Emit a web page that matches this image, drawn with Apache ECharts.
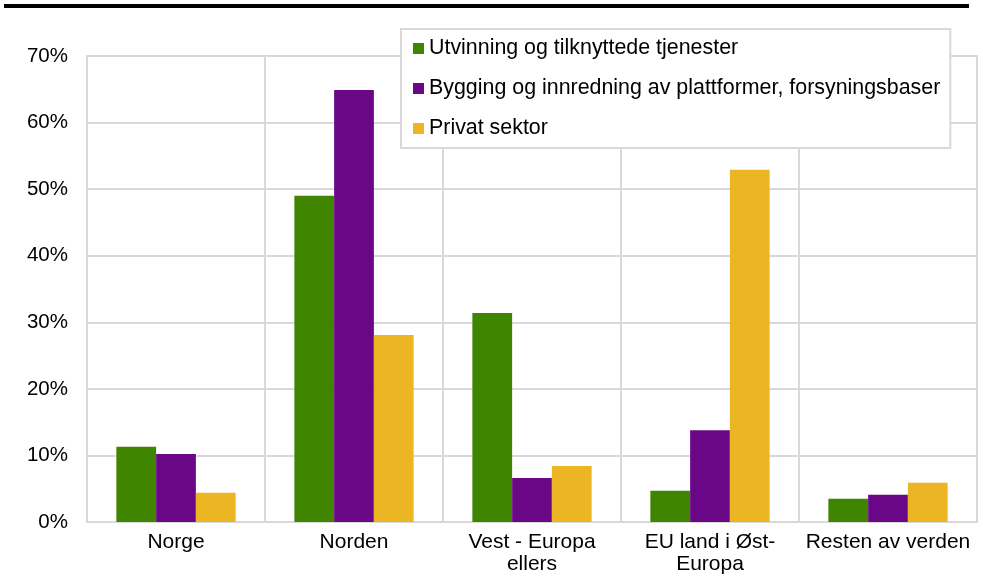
<!doctype html>
<html>
<head>
  <meta charset="utf-8">
  <script src="https://cdn.jsdelivr.net/npm/echarts@6/dist/echarts.min.js"></script>
  <style>
    html, body { margin: 0; padding: 0; background: #fff; }
    #chart { width: 983px; height: 585px; }
  </style>
</head>
<body>
  <div id="chart"></div>
  <script type="text/javascript">
    var categories = ['Norge', 'Norden', 'Vest - Europa\nellers', 'EU land i Øst-\nEuropa', 'Resten av verden'];
    var seriesNames = [
      'Utvinning og tilknyttede tjenester',
      'Bygging og innredning av plattformer, forsyningsbaser',
      'Privat sektor'
    ];
    var utvinning = [11.3, 49.0, 31.4, 4.7, 3.5];
    var bygging = [10.2, 64.9, 6.6, 13.8, 4.1];
    var privat = [4.4, 28.1, 8.4, 52.9, 5.9];
    var yTicks = [0, 10, 20, 30, 40, 50, 60, 70];
    var colors = ['#3f8500', '#6a0787', '#ebb523'];

    var font = 'Arial, "Liberation Sans", sans-serif';
    var myChart = echarts.init(document.getElementById('chart'));
    var option = {
      animation: false,
      color: colors,
      textStyle: { fontFamily: font },
      graphic: [{
        type: 'line',
        shape: { x1: 4, y1: 6, x2: 969, y2: 6 },
        style: { stroke: '#000', lineWidth: 4 }
      }],
      grid: {
        left: 87, right: 6, top: 56, bottom: 63,
        show: true, borderColor: '#d9d9d9', borderWidth: 2
      },
      legend: {
        show: true,
        orient: 'vertical',
        left: 401, top: 29,
        padding: [8, 10, 8, 12],
        backgroundColor: '#fff',
        borderColor: '#d9d9d9',
        borderWidth: 2,
        itemWidth: 11, itemHeight: 11,
        itemGap: 17,
        icon: 'rect',
        textStyle: { fontSize: 21.4, color: '#000', fontFamily: font, lineHeight: 23 },
        data: seriesNames
      },
      xAxis: {
        type: 'category',
        data: categories,
        axisLine: { lineStyle: { color: '#d9d9d9', width: 2 } },
        axisTick: { show: false },
        splitLine: { show: true, lineStyle: { color: '#d9d9d9', width: 2 } },
        axisLabel: { fontSize: 21, color: '#000', lineHeight: 22, margin: 9, interval: 0, fontFamily: font }
      },
      yAxis: {
        type: 'value',
        min: yTicks[0],
        max: yTicks[yTicks.length - 1],
        interval: 10,
        axisLine: { show: false },
        axisTick: { show: false },
        splitLine: { lineStyle: { color: '#d9d9d9', width: 2 } },
        axisLabel: { fontSize: 20.5, color: '#000', margin: 19, formatter: '{value}%', fontFamily: font }
      },
      series: [
        { name: seriesNames[0], type: 'bar', data: utvinning, barGap: '0%', barCategoryGap: '33%', z: 3 },
        { name: seriesNames[1], type: 'bar', data: bygging, barGap: '0%', barCategoryGap: '33%', z: 3 },
        { name: seriesNames[2], type: 'bar', data: privat, barGap: '0%', barCategoryGap: '33%', z: 3 }
      ]
    };
    myChart.setOption(option);
  </script>
</body>
</html>
